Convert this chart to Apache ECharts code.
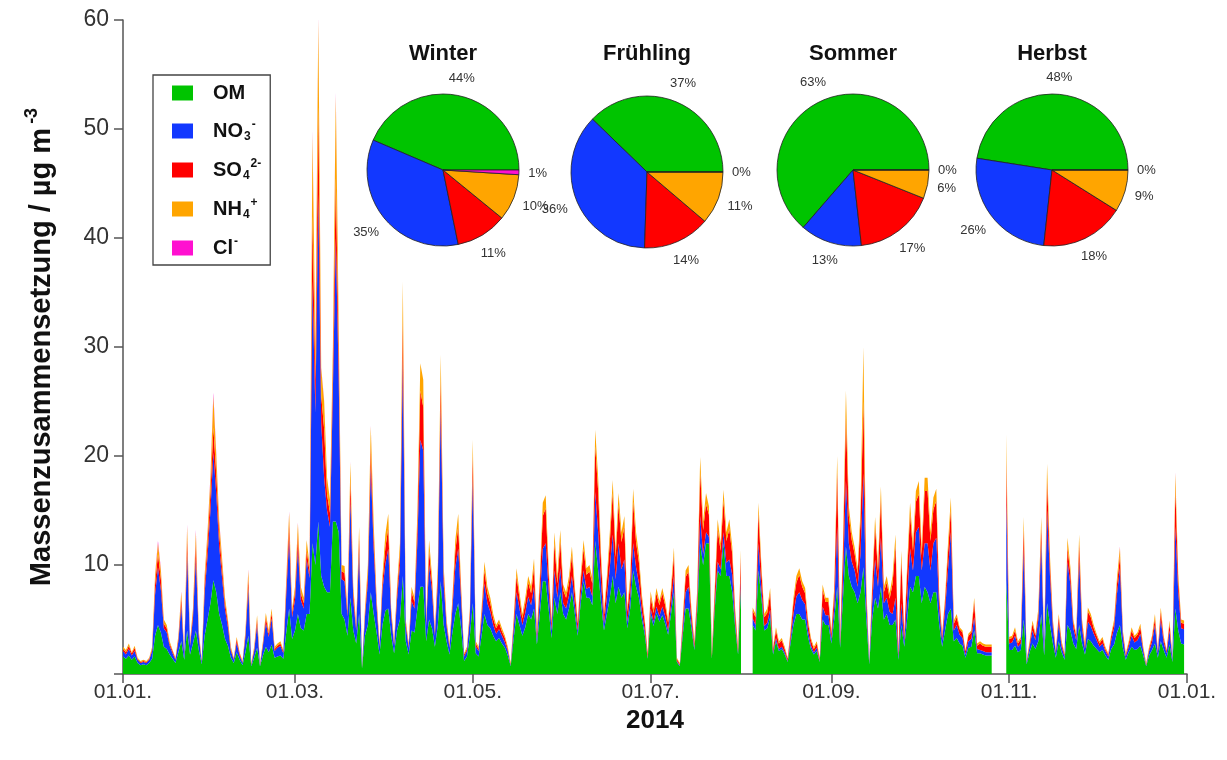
<!DOCTYPE html>
<html>
<head>
<meta charset="utf-8">
<title>Massenzusammensetzung 2014</title>
<script src="https://cdn.jsdelivr.net/npm/echarts@6/dist/echarts.min.js"></script>
<style>
  html, body { margin: 0; padding: 0; background: #fff; }
  #chart { width: 1227px; height: 760px; }
</style>
</head>
<body>
<div id="chart"></div>
<script>
// Tagesmittel 2014, µg m-3 (Index 0 = 01.01.)
var om = [
  1.6,1.4,1.7,1.3,1.6,1.0,0.8,0.9,0.8,1.0,1.4,3.5,4.5,3.8,2.5,2.3,1.8,1.4,1.0,2.0,3.0,1.3,4.0,1.8,2.8,4.0,2.2,0.9,3.5,5.0,6.5,
  8.6,7.5,5.5,4.5,3.2,2.6,1.5,1.0,2.0,1.3,0.8,2.0,3.5,0.7,1.5,2.4,0.7,1.7,2.5,2.0,2.7,1.5,1.6,1.7,1.4,3.8,6.0,3.2,
  4.0,5.5,4.2,4.0,5.5,5.5,12.0,10.0,14.0,9.0,8.0,7.5,7.5,14.0,14.0,13.0,5.5,5.0,3.5,7.0,4.0,2.8,5.5,0.5,3.5,4.5,7.5,5.5,3.8,1.8,4.5,
  5.8,6.0,3.5,1.9,4.0,5.0,9.0,3.0,1.8,4.0,3.8,6.0,8.0,8.0,3.0,5.0,4.2,2.5,4.5,8.5,4.5,3.0,1.8,3.8,5.5,6.5,4.2,1.2,1.6,3.5,
  6.5,1.9,1.6,3.5,5.5,4.5,4.2,3.5,3.0,3.3,2.8,2.4,1.7,0.7,3.2,5.5,4.5,3.5,4.3,5.5,5.0,6.0,2.7,5.5,8.5,8.5,6.0,3.3,7.0,5.5,7.5,
  5.5,5.0,6.0,7.5,5.5,3.5,6.5,8.5,7.0,7.0,6.3,12.2,9.5,6.5,4.0,5.5,7.0,9.0,6.5,8.0,7.0,7.5,4.2,6.0,9.5,8.0,7.0,5.0,3.6,1.4,
  5.5,4.4,5.6,4.8,5.4,4.6,3.6,5.5,7.5,1.1,0.7,3.5,6.0,6.0,4.2,2.2,5.8,12.0,10.0,12.0,12.0,1.4,6.0,9.5,9.0,12.0,9.0,9.0,7.5,4.3,1.8,
  8.0,null,null,null,4.5,4.0,9.5,7.0,4.0,4.2,5.2,1.8,3.0,2.1,2.3,1.8,1.1,2.8,4.5,5.5,5.5,5.0,5.0,3.4,2.3,1.8,2.1,1.1,5.0,4.5,4.5,
  2.8,5.0,8.0,2.4,7.0,11.7,9.0,8.0,7.5,6.5,7.5,9.8,5.0,0.9,5.0,7.0,6.0,8.0,5.0,5.5,4.5,4.5,5.0,1.3,4.5,2.5,5.0,8.0,7.5,9.0,
  9.0,6.5,8.0,7.5,6.5,7.5,7.5,4.5,2.5,4.0,5.5,6.0,3.0,3.3,2.8,2.6,1.5,2.4,2.5,4.0,1.9,1.9,1.8,1.7,1.7,1.7,null,null,null,null,8.6,
  2.2,2.2,2.6,2.0,2.2,5.0,0.9,2.0,2.8,2.3,3.0,5.5,1.7,6.5,4.5,2.8,1.5,3.0,2.0,1.3,4.5,4.0,2.8,2.3,4.5,2.8,1.8,3.2,3.0,2.6,
  2.3,2.0,2.2,1.7,1.3,2.3,2.7,3.8,4.5,2.4,1.3,2.0,2.5,2.2,2.3,2.6,1.7,0.7,1.7,2.2,2.8,1.5,3.0,2.2,1.5,2.7,1.1,6.0,4.0,2.8,2.7
];
var no3 = [
  0.5,0.4,0.6,0.4,0.5,0.3,0.2,0.2,0.2,0.3,0.7,3.8,5.3,3.9,1.7,1.5,0.8,0.5,0.3,1.0,3.2,0.4,7.0,0.8,2.3,6.6,1.2,0.2,3.9,5.8,8.5,
  11.7,9.0,6.2,4.3,2.7,1.7,0.6,0.3,0.9,0.4,0.2,1.4,4.4,0.1,0.6,2.1,0.1,0.9,2.2,1.4,2.4,0.6,0.8,0.9,0.5,3.5,6.4,2.0,
  2.8,6.0,2.6,2.0,5.0,3.3,24.0,14.0,30.0,14.0,10.0,7.5,6.0,12.0,26.0,14.0,3.2,3.5,1.8,9.0,2.8,1.2,5.8,0.1,1.7,3.9,11.5,6.0,2.3,0.7,3.2,
  4.3,5.5,1.8,0.7,2.8,5.0,20.0,1.4,0.6,2.7,2.2,6.2,13.5,12.5,1.4,5.0,3.4,1.0,3.8,16.0,3.8,1.4,0.6,2.2,4.3,5.0,2.6,0.4,0.5,1.7,
  11.5,0.6,0.5,1.5,2.8,2.0,1.5,1.0,0.7,0.8,0.7,0.5,0.4,0.1,0.9,2.0,1.5,1.0,1.3,1.6,1.3,2.0,0.5,1.5,3.0,3.5,1.8,0.7,2.5,1.5,2.2,
  1.0,1.0,1.2,1.5,0.9,0.5,0.8,1.0,0.8,1.0,0.8,4.5,3.5,1.8,0.6,1.5,2.8,3.8,2.2,4.0,2.6,3.0,0.6,1.1,2.5,1.8,1.3,0.7,0.4,0.1,
  0.5,0.4,0.6,0.5,0.8,0.7,0.4,0.8,1.5,0.1,0.1,0.5,1.5,2.0,0.6,0.2,0.6,2.5,1.0,1.0,0.6,0.1,0.4,0.8,0.6,1.0,1.2,1.5,1.6,0.5,0.2,
  0.8,null,null,null,0.6,0.5,2.5,0.9,0.4,0.5,0.7,0.2,0.3,0.2,0.2,0.2,0.1,0.4,1.0,1.6,2.0,1.8,1.4,0.6,0.3,0.2,0.3,0.1,1.2,0.9,0.9,
  0.4,1.2,5.5,0.3,2.0,6.0,3.0,2.3,2.0,1.5,3.5,8.6,1.5,0.2,1.5,3.5,2.0,4.5,1.5,1.5,1.2,1.0,2.0,0.3,2.0,0.5,2.0,3.5,2.0,4.0,
  4.5,3.0,4.0,4.5,3.0,4.5,5.0,1.5,0.6,1.8,4.0,7.0,1.0,1.2,0.8,0.7,0.3,0.6,0.7,1.2,0.4,0.3,0.3,0.3,0.3,0.3,null,null,null,null,7.4,
  0.6,0.7,0.9,0.5,0.6,6.5,0.2,0.5,1.2,0.8,2.0,6.5,0.4,8.5,4.5,1.4,0.4,1.6,0.5,0.3,5.8,4.2,1.4,0.8,6.0,1.4,0.5,1.6,1.4,1.1,
  0.8,0.5,0.6,0.4,0.3,0.8,1.5,3.6,5.2,1.0,0.3,0.5,1.0,0.7,0.8,1.1,0.4,0.1,0.4,0.7,1.7,0.4,2.0,0.7,0.4,1.3,0.3,7.5,3.5,1.4,1.4
];
var so4 = [
  0.2,0.2,0.3,0.2,0.3,0.1,0.1,0.1,0.1,0.1,0.2,0.9,1.2,1.0,0.4,0.4,0.2,0.2,0.1,0.3,0.7,0.2,1.3,0.2,0.5,1.3,0.3,0.1,0.8,1.2,1.6,
  2.3,1.8,1.2,0.9,0.6,0.4,0.2,0.1,0.3,0.2,0.1,0.3,0.8,0.1,0.2,0.5,0.1,0.2,0.5,0.3,0.5,0.2,0.2,0.2,0.2,0.7,1.3,0.4,
  0.7,1.2,0.6,0.5,0.9,0.6,6.0,3.0,8.0,2.5,4.5,1.5,1.3,2.0,5.5,2.5,0.7,0.8,0.4,1.8,0.7,0.3,1.2,0.1,0.4,0.8,1.8,1.2,0.5,0.2,0.7,
  1.5,1.9,0.4,0.2,0.7,1.1,3.5,0.3,0.2,0.8,0.6,1.6,4.5,4.0,0.3,1.3,0.8,0.3,1.0,2.5,1.0,0.3,0.2,0.6,1.5,2.0,0.7,0.2,0.2,0.5,
  2.0,0.3,0.2,0.6,1.2,0.9,0.8,0.6,0.5,0.6,0.4,0.4,0.2,0.1,0.6,1.5,1.0,0.6,0.9,1.3,1.1,1.8,0.4,1.3,3.0,3.2,1.5,0.6,2.5,1.3,2.5,
  1.2,1.0,1.2,1.9,1.1,0.6,1.2,2.0,1.3,1.4,1.2,4.2,3.8,2.0,0.8,1.4,2.3,3.8,2.0,3.5,2.5,3.0,0.9,1.3,3.8,2.3,1.9,1.1,0.7,0.3,
  1.1,0.8,1.2,1.0,1.2,1.0,0.7,1.2,1.9,0.2,0.1,0.7,1.4,1.4,0.8,0.4,1.0,4.0,2.2,2.6,2.0,0.3,1.1,3.0,1.7,2.9,2.0,2.8,1.9,0.8,0.3,
  1.9,null,null,null,0.7,0.7,2.8,1.5,0.8,0.9,1.5,0.3,0.7,0.5,0.6,0.3,0.2,0.5,1.1,1.3,1.6,1.2,1.0,0.7,0.5,0.3,0.4,0.2,1.5,1.2,1.2,
  0.5,1.3,5.0,0.4,2.2,5.9,2.5,2.0,1.5,1.2,3.0,6.6,1.0,0.1,1.2,3.0,1.4,3.6,1.0,1.4,1.2,2.8,4.8,0.3,4.0,0.5,2.3,3.2,1.8,2.8,
  3.0,1.4,4.8,4.8,2.7,3.1,3.4,1.0,0.4,0.8,1.6,2.1,0.6,0.7,0.5,0.5,0.3,0.5,0.6,1.4,0.3,0.6,0.5,0.5,0.5,0.5,null,null,null,null,3.6,
  0.4,0.4,0.5,0.3,0.4,1.8,0.1,0.3,0.6,0.4,0.6,1.4,0.2,2.8,1.1,0.5,0.2,0.6,0.3,0.2,1.3,1.0,0.5,0.4,1.4,0.5,0.3,0.9,0.8,0.5,
  0.4,0.3,0.4,0.2,0.2,0.4,0.5,0.9,1.1,0.4,0.2,0.3,0.5,0.4,0.5,0.6,0.2,0.1,0.2,0.4,0.6,0.2,0.7,0.4,0.2,0.6,0.1,3.5,1.1,0.5,0.5
];
var nh4 = [
  0.2,0.2,0.2,0.1,0.2,0.1,0.1,0.1,0.1,0.1,0.2,0.8,1.0,0.8,0.4,0.3,0.2,0.1,0.1,0.2,0.6,0.1,1.2,0.2,0.4,1.1,0.3,0.1,0.8,1.0,1.4,
  2.9,1.7,1.1,0.8,0.5,0.3,0.2,0.1,0.2,0.1,0.1,0.3,0.8,0.1,0.2,0.4,0.1,0.2,0.4,0.3,0.4,0.2,0.2,0.2,0.1,0.6,1.1,0.4,
  0.5,1.1,0.6,0.5,0.9,0.6,7.5,3.0,8.0,2.5,2.5,1.5,1.2,2.0,7.5,2.5,0.6,0.6,0.3,1.6,0.5,0.3,1.0,0.1,0.4,0.8,1.9,1.1,0.4,0.2,0.6,
  1.2,1.3,0.3,0.2,0.5,0.9,3.5,0.3,0.2,0.5,0.4,1.2,2.5,2.5,0.3,1.0,0.6,0.2,0.7,2.3,0.7,0.3,0.2,0.4,1.0,1.2,0.5,0.1,0.2,0.3,
  1.5,0.2,0.2,0.4,0.8,0.6,0.5,0.4,0.3,0.3,0.3,0.2,0.2,0.1,0.3,0.7,0.5,0.4,0.5,0.6,0.6,0.8,0.3,0.7,1.2,1.2,0.7,0.3,1.0,0.7,1.0,
  0.5,0.5,0.6,0.8,0.5,0.3,0.5,0.8,0.6,0.6,0.5,1.5,1.2,0.7,0.4,0.6,0.9,1.2,0.8,1.1,0.9,1.0,0.4,0.6,1.2,0.9,0.7,0.5,0.3,0.1,
  0.5,0.4,0.5,0.4,0.5,0.4,0.3,0.5,0.7,0.1,0.1,0.3,0.6,0.6,0.4,0.2,0.5,1.4,0.8,1.0,0.8,0.1,0.5,0.9,0.7,1.0,0.8,0.9,0.7,0.4,0.2,
  0.7,null,null,null,0.3,0.3,0.9,0.6,0.3,0.4,0.5,0.2,0.3,0.2,0.2,0.2,0.1,0.3,0.4,0.6,0.6,0.5,0.5,0.3,0.2,0.2,0.2,0.1,0.5,0.4,0.4,
  0.3,0.5,1.5,0.2,0.8,2.4,0.9,0.7,0.6,0.5,1.0,5.0,0.5,0.1,0.5,0.9,0.6,1.1,0.5,0.6,0.5,0.7,1.0,0.1,0.8,0.2,0.7,1.0,0.7,1.0,
  1.2,0.7,1.2,1.2,0.8,1.1,1.1,0.4,0.2,0.4,0.8,1.1,0.3,0.3,0.2,0.2,0.1,0.2,0.2,0.4,0.2,0.2,0.2,0.2,0.2,0.2,null,null,null,null,2.4,
  0.2,0.2,0.3,0.2,0.2,1.1,0.1,0.2,0.3,0.2,0.4,1.0,0.2,1.5,0.7,0.3,0.1,0.3,0.2,0.1,0.9,0.6,0.3,0.2,0.9,0.3,0.2,0.4,0.3,0.3,
  0.2,0.2,0.2,0.2,0.1,0.2,0.3,0.6,0.8,0.2,0.1,0.2,0.3,0.2,0.2,0.3,0.2,0.1,0.2,0.2,0.4,0.1,0.4,0.2,0.1,0.3,0.1,1.4,0.6,0.3,0.3
];
var cl = [
  0,0,0,0,0,0,0,0,0,0,0,0.1,0.2,0.1,0,0,0,0,0,0,0.1,0,0.2,0,0,0.2,0,0,0.1,0.1,0.2,
  0.3,0.2,0.1,0.1,0,0,0,0,0,0,0,0,0.1,0,0,0,0,0,0,0,0,0,0,0,0,0.1,0.1,0,
  0,0.1,0,0,0,0,0.3,0.1,0.3,0.1,0.1,0,0,0.1,0.3,0.1,0,0,0,0.1,0,0,0,0,0,0,0.1,0,0,0,0,
  0,0,0,0,0,0,0.1,0,0,0,0,0,0,0,0,0,0,0,0,0,0,0,0,0,0,0,0,0,0,0,
  0,0,0,0,0,0,0,0,0,0,0,0,0,0,0,0,0,0,0,0,0,0,0,0,0,0,0,0,0,0,0,
  0,0,0,0,0,0,0,0,0,0,0,0,0,0,0,0,0,0,0,0,0,0,0,0,0,0,0,0,0,0,
  0,0,0,0,0,0,0,0,0,0,0,0,0,0,0,0,0,0,0,0,0,0,0,0,0,0,0,0,0,0,0,
  0,null,null,null,0,0,0,0,0,0,0,0,0,0,0,0,0,0,0,0,0,0,0,0,0,0,0,0,0,0,0,
  0,0,0,0,0,0,0,0,0,0,0,0,0,0,0,0,0,0,0,0,0,0,0,0,0,0,0,0,0,0,
  0,0,0,0,0,0,0,0,0,0,0,0,0,0,0,0,0,0,0,0,0,0,0,0,0,0,null,null,null,null,0,
  0,0,0,0,0,0,0,0,0,0,0,0,0,0,0,0,0,0,0,0,0,0,0,0,0,0,0,0,0,0,
  0,0,0,0,0,0,0,0,0.1,0,0,0,0,0,0,0,0,0,0,0,0,0,0,0,0,0,0,0.1,0,0,0
];

// Achsenbeschriftung
var tickDays = [0, 59, 120, 181, 243, 304, 365];
var tickLabels = ['01.01.', '01.03.', '01.05.', '01.07.', '01.09.', '01.11.', '01.01.'];

// Jahreszeiten-Anteile in %
var seasons = ['Winter', 'Frühling', 'Sommer', 'Herbst'];
var components = ['OM', 'NO3', 'SO4', 'NH4', 'Cl'];
var winterShare = [44, 35, 11, 10, 1];
var fruehlingShare = [37, 36, 14, 11, 0];
var sommerShare = [63, 13, 17, 6, 0];
var herbstShare = [48, 26, 18, 9, 0];

var colors = ['#00c400', '#1238ff', '#ff0000', '#ffa500', '#ff10d0'];
var legendText = {
    OM: 'OM',
    NO3: 'NO{sub|3}{sup|-}',
    SO4: 'SO{sub|4}{sup|2-}',
    NH4: 'NH{sub|4}{sup|+}',
    Cl: 'Cl{sup|-}'
};

var days = [];
for (var i = 0; i <= 365; i++) days.push(i);

var chart = echarts.init(document.getElementById('chart'));
var font = 'Liberation Sans, Arial, Helvetica, sans-serif';

var areaSeries = [om, no3, so4, nh4, cl].map(function (values, k) {
    return {
        name: components[k],
        type: 'line',
        stack: 'mass',
        data: values,
        symbol: 'none',
        showSymbol: false,
        connectNulls: false,
        sampling: 'none',
        lineStyle: { width: 0 },
        areaStyle: { opacity: 1, color: colors[k] },
        itemStyle: { color: colors[k] }
    };
});

var pieCenters = [[443, 170], [647, 172], [853, 170], [1052, 170]];
var pieRadius = 76;
var pieShares = [winterShare, fruehlingShare, sommerShare, herbstShare];

// Prozentangabe radial ausserhalb des Segments, mittig zentriert
function pieLabelLayout(params) {
    var s = params.seriesIndex - areaSeries.length;
    var shares = pieShares[s];
    var total = 0, before = 0;
    for (var j = 0; j < shares.length; j++) {
        total += shares[j];
        if (j < params.dataIndex) before += shares[j];
    }
    var mid = (before + shares[params.dataIndex] / 2) / total * 2 * Math.PI;
    var c = Math.cos(mid), sn = Math.sin(mid);
    var w = params.labelRect.width, h = params.labelRect.height;
    var dist = pieRadius + 9 + Math.abs(c) * w / 2 + Math.abs(sn) * h / 2;
    return {
        x: pieCenters[s][0] + c * dist,
        y: pieCenters[s][1] - sn * dist,
        align: 'center',
        verticalAlign: 'middle'
    };
}

var pieSeries = pieShares.map(function (shares, s) {
    return {
        name: seasons[s],
        type: 'pie',
        center: pieCenters[s],
        radius: pieRadius,
        startAngle: 0,
        clockwise: false,
        avoidLabelOverlap: false,
        minShowLabelAngle: 0,
        data: shares.map(function (v, k) {
            return { name: components[k], value: v };
        }),
        itemStyle: { borderColor: '#222', borderWidth: 0.8 },
        label: {
            show: true,
            position: 'outside',
            formatter: '{c}%',
            fontFamily: font,
            fontSize: 13,
            color: '#333'
        },
        labelLine: { show: false, length: 8, length2: 0 },
        labelLayout: pieLabelLayout,
        emphasis: { disabled: true }
    };
});

var titles = seasons.map(function (name, s) {
    return {
        text: name,
        left: pieCenters[s][0],
        top: 43,
        textAlign: 'center',
        padding: 0,
        textStyle: { fontFamily: font, fontSize: 22, fontWeight: 'bold', color: '#111' }
    };
});

var supSub = {
    sub: { fontSize: 12, fontWeight: 'bold', padding: [12, 0, 0, 1], color: '#111' },
    sup: { fontSize: 12, fontWeight: 'bold', padding: [0, 0, 12, 1], color: '#111' }
};

var option = {
    animation: false,
    color: colors,
    title: titles,
    legend: {
        orient: 'vertical',
        left: 153,
        top: 75,
        data: components,
        icon: 'rect',
        itemWidth: 21,
        itemHeight: 15,
        itemGap: 15,
        padding: [7, 9, 6, 19],
        borderColor: '#444',
        borderWidth: 1.3,
        selectedMode: false,
        formatter: function (name) { return legendText[name]; },
        textStyle: {
            fontFamily: font,
            fontSize: 20,
            fontWeight: 'bold',
            color: '#111',
            lineHeight: 22,
            padding: [0, 0, 0, 15],
            rich: supSub
        }
    },
    grid: { left: 123, right: 40, top: 20, bottom: 86, containLabel: false },
    xAxis: {
        type: 'category',
        data: days,
        boundaryGap: false,
        name: '2014',
        nameLocation: 'middle',
        nameGap: 28,
        nameTextStyle: { fontFamily: font, fontSize: 26, fontWeight: 'bold', color: '#111' },
        axisLine: { lineStyle: { color: '#555', width: 1.5 } },
        axisTick: {
            interval: function (idx) { return tickDays.indexOf(idx) >= 0; },
            length: 9,
            lineStyle: { color: '#555', width: 1.5 }
        },
        axisLabel: {
            interval: function (idx) { return tickDays.indexOf(idx) >= 0; },
            formatter: function (value, idx) {
                var j = tickDays.indexOf(Number(value));
                return j >= 0 ? tickLabels[j] : '';
            },
            fontFamily: font,
            fontSize: 21,
            color: '#333',
            margin: 8
        },
        splitLine: { show: false }
    },
    yAxis: {
        type: 'value',
        min: 0,
        max: 60,
        interval: 10,
        name: 'Massenzusammensetzung / µg m{sup|-3}',
        nameLocation: 'middle',
        nameGap: 62,
        nameTextStyle: {
            fontFamily: font,
            fontSize: 29,
            fontWeight: 'bold',
            color: '#111',
            rich: {
                sup: { fontFamily: font, fontSize: 18, fontWeight: 'bold', color: '#111', padding: [0, 0, 20, 4] }
            }
        },
        axisLine: { show: true, lineStyle: { color: '#555', width: 1.5 } },
        axisTick: { show: true, length: 9, lineStyle: { color: '#555', width: 1.5 } },
        axisLabel: {
            fontFamily: font,
            fontSize: 23,
            color: '#333',
            margin: 14,
            formatter: function (v) { return v === 0 ? '' : String(v); }
        },
        splitLine: { show: false }
    },
    series: areaSeries.concat(pieSeries)
};

chart.setOption(option);
</script>
</body>
</html>
